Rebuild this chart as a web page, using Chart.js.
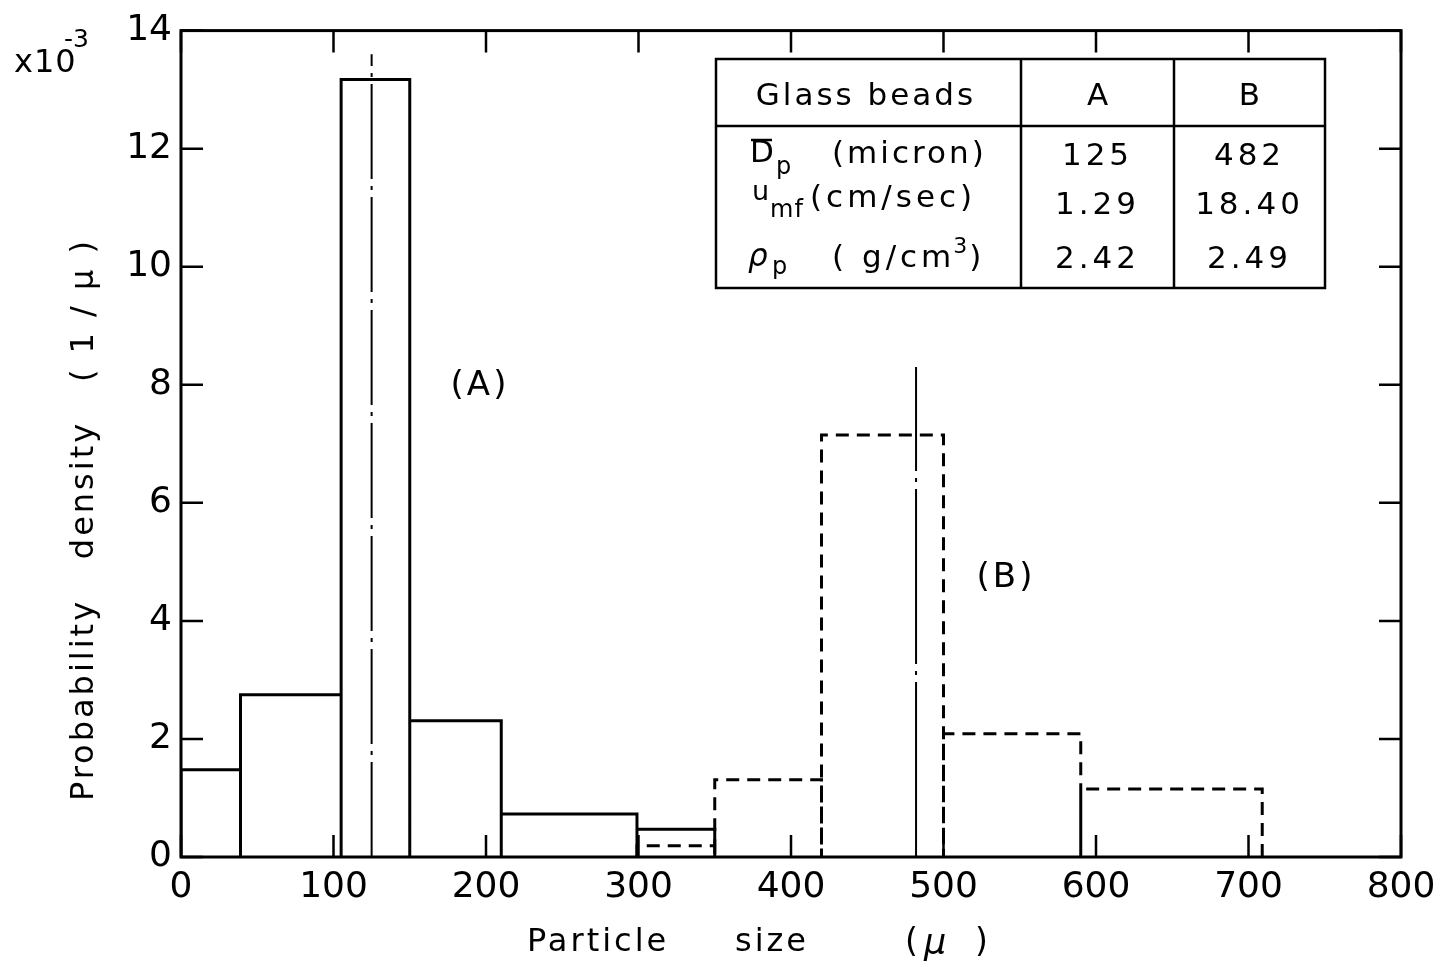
<!DOCTYPE html>
<html>
<head>
<meta charset="utf-8">
<script src="https://cdn.jsdelivr.net/npm/chart.js@4.4.1/dist/chart.umd.min.js"></script>
<style>
  html, body { margin: 0; padding: 0; background: #fff; }
  #wrap { width: 1445px; height: 967px; }
</style>
</head>
<body>
<div id="wrap"><canvas id="c" width="1445" height="967"></canvas></div>
<script>
// ---------- data ----------
const binEdgesA = [0, 39, 105, 150, 210, 299, 350];
const densityA  = [1.48, 2.75, 13.17, 2.31, 0.73, 0.47];
const binEdgesB = [299, 350, 420, 500, 590, 709];
const densityB  = [0.19, 1.31, 7.15, 2.09, 1.15];
const meanSizes    = [125, 482];
const meanLineTops = [13.6, 8.3];
const xTickValues = [0, 100, 200, 300, 400, 500, 600, 700, 800];
const yTickValues = [0, 2, 4, 6, 8, 10, 12, 14];
const tableHeader = ['Glass beads', 'A', 'B'];
const tableColA   = ['125', '1.29', '2.42'];
const tableColB   = ['482', '18.40', '2.49'];

function histPath(edges, vals) {
  const pts = [];
  for (let i = 0; i < vals.length; i++) {
    pts.push({x: edges[i], y: 0}, {x: edges[i], y: vals[i]},
             {x: edges[i + 1], y: vals[i]}, {x: edges[i + 1], y: 0});
  }
  return pts;
}

const FONT = 'DejaVu Sans';

function txt(ctx, s, x, y, size, opt) {
  opt = opt || {};
  ctx.save();
  ctx.font = (opt.italic ? 'italic ' : '') + size + 'px "' + FONT + '"';
  ctx.fillStyle = '#000';
  ctx.textAlign = opt.align || 'left';
  ctx.textBaseline = 'middle';
  ctx.letterSpacing = (opt.sp || 0) + 'px';
  let w = ctx.measureText(s).width;
  if (opt.rot) {
    ctx.translate(x, y);
    ctx.rotate(opt.rot);
    ctx.fillText(s, 0, 0);
  } else {
    ctx.fillText(s, x, y);
  }
  ctx.restore();
  return w;
}

const decor = {
  id: 'decor',
  afterDatasetsDraw(chart) {
    const ctx = chart.ctx;
    const a = chart.chartArea;
    const xs = chart.scales.x, ys = chart.scales.y;
    ctx.save();
    ctx.strokeStyle = '#000';
    // frame
    ctx.lineWidth = 3;
    ctx.strokeRect(a.left, a.top, a.right - a.left, a.bottom - a.top);
    // inward ticks
    ctx.lineWidth = 2.5;
    const tl = 22;
    xTickValues.forEach(v => {
      const px = xs.getPixelForValue(v);
      ctx.beginPath();
      ctx.moveTo(px, a.bottom); ctx.lineTo(px, a.bottom - tl);
      ctx.moveTo(px, a.top); ctx.lineTo(px, a.top + tl);
      ctx.stroke();
    });
    yTickValues.forEach(v => {
      const py = ys.getPixelForValue(v);
      ctx.beginPath();
      ctx.moveTo(a.left, py); ctx.lineTo(a.left + tl, py);
      ctx.moveTo(a.right, py); ctx.lineTo(a.right - tl, py);
      ctx.stroke();
    });
    ctx.restore();

    // axis titles
    txt(ctx, 'Particle', 527, 943, 32, {sp: 3});
    txt(ctx, 'size', 735, 943, 32, {sp: 3});
    txt(ctx, '(', 905, 943, 33);
    txt(ctx, 'μ', 924, 945, 35, {italic: true});
    txt(ctx, ')', 975, 943, 33);
    const R = -Math.PI / 2;
    txt(ctx, 'Probability', 85, 700, 32, {sp: 3, rot: R, align: 'center'});
    txt(ctx, 'density', 85, 490, 32, {sp: 3, rot: R, align: 'center'});
    txt(ctx, '( 1 / μ )', 85, 310, 32, {sp: 3, rot: R, align: 'center'});
    // multiplier
    txt(ctx, 'x10', 14, 64, 32, {sp: 1});
    txt(ctx, '-3', 64, 40, 25);
    // series labels
    txt(ctx, '(A)', 480, 386, 34, {align: 'center', sp: 3});
    txt(ctx, '(B)', 1006, 578, 34, {align: 'center', sp: 3});

    // table
    const T = {l: 716, r: 1325, t: 59, b: 288, h: 126, c1: 1021, c2: 1174};
    ctx.save();
    ctx.strokeStyle = '#000';
    ctx.lineWidth = 2.5;
    ctx.fillStyle = '#fff';
    ctx.fillRect(T.l, T.t, T.r - T.l, T.b - T.t);
    ctx.strokeRect(T.l, T.t, T.r - T.l, T.b - T.t);
    ctx.beginPath();
    ctx.moveTo(T.l, T.h); ctx.lineTo(T.r, T.h);
    ctx.moveTo(T.c1, T.t); ctx.lineTo(T.c1, T.b);
    ctx.moveTo(T.c2, T.t); ctx.lineTo(T.c2, T.b);
    ctx.stroke();
    ctx.restore();
    const cA = (T.c1 + T.c2) / 2, cB = (T.c2 + T.r) / 2;
    txt(ctx, tableHeader[0], 866, 97, 31, {align: 'center', sp: 3});
    txt(ctx, tableHeader[1], cA, 97, 31, {align: 'center'});
    txt(ctx, tableHeader[2], cB, 97, 31, {align: 'center'});
    const rowY = [157, 206, 260];
    for (let i = 0; i < 3; i++) {
      txt(ctx, tableColA[i], cA, rowY[i], 31, {align: 'center', sp: 4});
      txt(ctx, tableColB[i], cB, rowY[i], 31, {align: 'center', sp: 4});
    }
    // row 1: D-bar p (micron)
    txt(ctx, 'D', 750, 154, 31);
    ctx.save(); ctx.lineWidth = 2.5; ctx.beginPath();
    ctx.moveTo(751, 140); ctx.lineTo(772, 140); ctx.stroke(); ctx.restore();
    txt(ctx, 'p', 776, 168, 24);
    txt(ctx, '(micron)', 832, 155, 31, {sp: 3});
    // row 2: u_mf (cm/sec)
    txt(ctx, 'u', 752, 193, 27);
    txt(ctx, 'mf', 770, 211, 24, {sp: 1});
    txt(ctx, '(cm/sec)', 810, 199, 31, {sp: 4});
    // row 3: rho_p ( g/cm3)
    txt(ctx, 'ρ', 748, 258, 31, {italic: true});
    txt(ctx, 'p', 772, 268, 24);
    const w3 = txt(ctx, '( g/cm', 832, 259, 31, {sp: 4});
    txt(ctx, '3', 832 + w3 - 2, 247, 22);
    txt(ctx, ')', 832 + w3 + 14, 259, 31);
  }
};

const ctx = document.getElementById('c').getContext('2d');
new Chart(ctx, {
  type: 'line',
  data: {
    datasets: [
      { label: 'A', data: histPath(binEdgesA, densityA), borderColor: '#000', borderWidth: 3,
        pointRadius: 0, fill: false, tension: 0 },
      { label: 'B', data: histPath(binEdgesB, densityB), borderColor: '#000', borderWidth: 3,
        borderDash: [13, 8], pointRadius: 0, fill: false, tension: 0 },
      { label: 'mean A', data: [{x: meanSizes[0], y: 0}, {x: meanSizes[0], y: meanLineTops[0]}],
        borderColor: '#000', borderWidth: 2, borderDash: [95, 7, 4, 7], pointRadius: 0, fill: false },
      { label: 'mean B', data: [{x: meanSizes[1], y: 0}, {x: meanSizes[1], y: meanLineTops[1]}],
        borderColor: '#000', borderWidth: 2, borderDash: [175, 7, 4, 7], pointRadius: 0, fill: false }
    ]
  },
  options: {
    responsive: false,
    animation: false,
    layout: { padding: { left: 0, right: 44, top: 22, bottom: 0 } },
    plugins: { legend: { display: false }, tooltip: { enabled: false } },
    scales: {
      x: {
        type: 'linear', min: 0, max: 800,
        grid: { display: false, drawTicks: false },
        border: { display: false },
        afterBuildTicks: s => { s.ticks = xTickValues.map(v => ({value: v})); },
        afterFit: s => { s.height = 110; },
        ticks: { color: '#000', padding: 9, maxRotation: 0, autoSkip: false,
                 font: { family: FONT, size: 36 } }
      },
      y: {
        type: 'linear', min: 0, max: 14,
        grid: { display: false, drawTicks: false },
        border: { display: false },
        afterBuildTicks: s => { s.ticks = yTickValues.map(v => ({value: v})); },
        afterFit: s => { s.width = 181; },
        ticks: { color: '#000', padding: 9, autoSkip: false,
                 font: { family: FONT, size: 36 } }
      }
    }
  },
  plugins: [decor]
});
</script>
</body>
</html>
